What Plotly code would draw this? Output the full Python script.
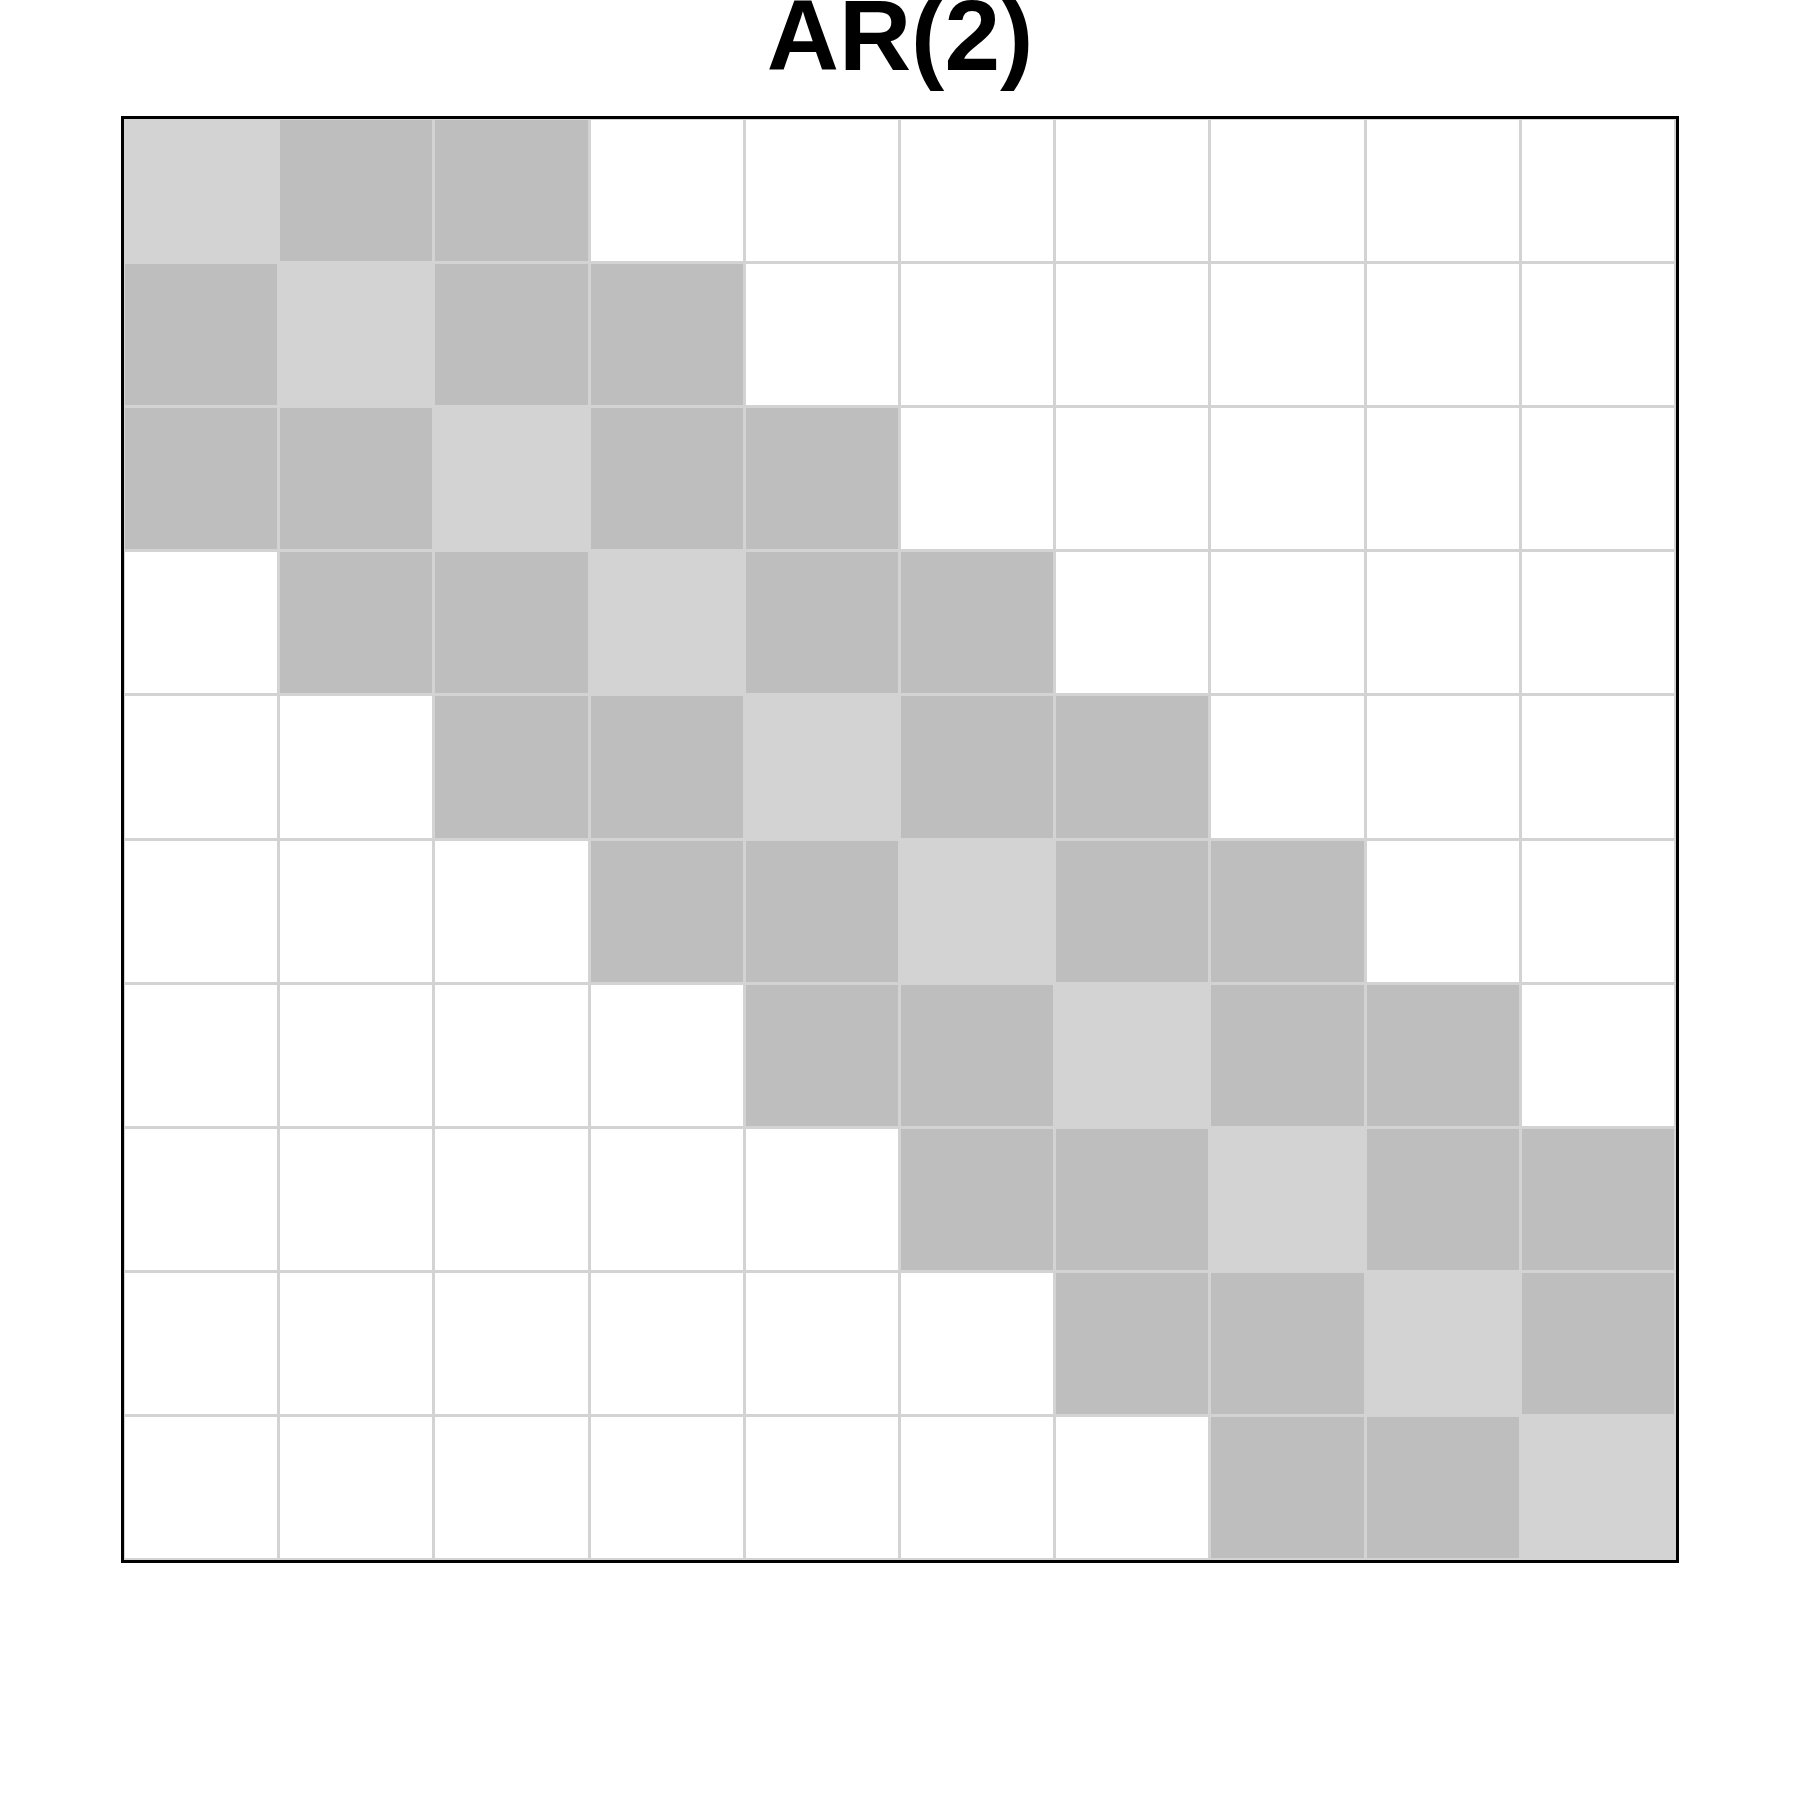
import plotly.graph_objects as go

# Cell categories: 0 = zero (white), 1 = diagonal (light grey), 2 = nonzero off-diagonal (grey)
rows = list(range(1, 11))
cols = list(range(1, 11))
matrix = [
    [1, 2, 2, 0, 0, 0, 0, 0, 0, 0],
    [2, 1, 2, 2, 0, 0, 0, 0, 0, 0],
    [2, 2, 1, 2, 2, 0, 0, 0, 0, 0],
    [0, 2, 2, 1, 2, 2, 0, 0, 0, 0],
    [0, 0, 2, 2, 1, 2, 2, 0, 0, 0],
    [0, 0, 0, 2, 2, 1, 2, 2, 0, 0],
    [0, 0, 0, 0, 2, 2, 1, 2, 2, 0],
    [0, 0, 0, 0, 0, 2, 2, 1, 2, 2],
    [0, 0, 0, 0, 0, 0, 2, 2, 1, 2],
    [0, 0, 0, 0, 0, 0, 0, 2, 2, 1],
]
title_text = "AR(2)"

colorscale = [
    [0.0, "#ffffff"], [1/3, "#ffffff"],
    [1/3, "#d3d3d3"], [2/3, "#d3d3d3"],
    [2/3, "#bebebe"], [1.0, "#bebebe"],
]

fig = go.Figure(go.Heatmap(
    z=matrix, x=cols, y=rows,
    zmin=-0.5, zmax=2.5,
    colorscale=colorscale, showscale=False,
    xgap=3, ygap=3, hoverinfo="skip",
))

fig.update_layout(
    width=1800, height=1800,
    margin=dict(l=124, r=124, t=119, b=240),
    paper_bgcolor="white", plot_bgcolor="#d3d3d3",
    title=dict(text="<b>" + title_text + "</b>", x=0.5, xanchor="center",
               y=1 - 35/1800, yanchor="middle", yref="container",
               font=dict(family="Liberation Sans", size=100, color="black")),
)
fig.update_xaxes(showticklabels=False, ticks="", showgrid=False, zeroline=False,
                 showline=True, mirror=True, linecolor="black", linewidth=2.5,
                 range=[0.5, 10.5])
fig.update_yaxes(showticklabels=False, ticks="", showgrid=False, zeroline=False,
                 showline=True, mirror=True, linecolor="black", linewidth=2.5,
                 range=[10.5, 0.5])

fig.write_html("out.html")
